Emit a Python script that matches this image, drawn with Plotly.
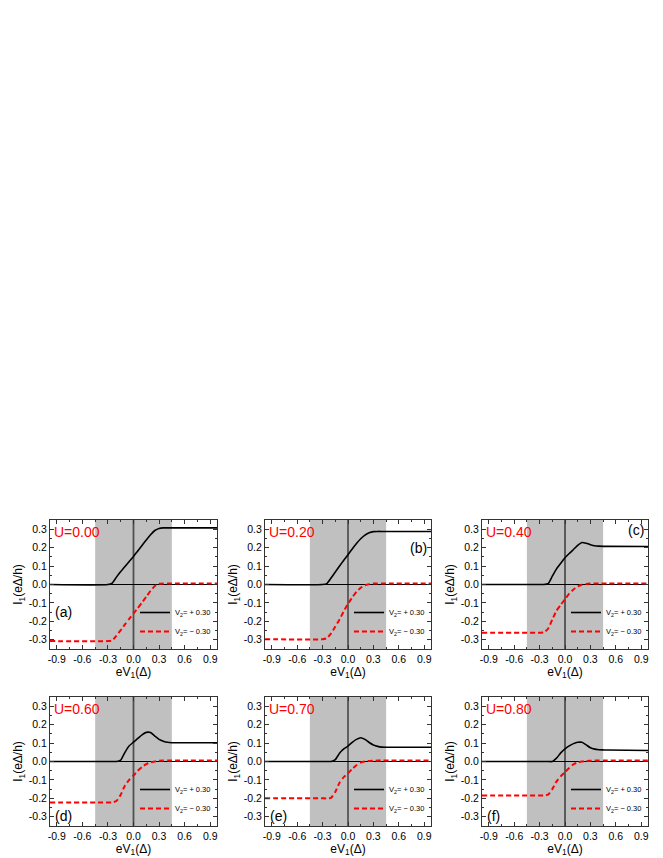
import plotly.graph_objects as go
from plotly.subplots import make_subplots

# bias eV1 (in units of Delta)
ev1 = [-0.98, -0.3, -0.25, -0.2, -0.15, -0.1, -0.05, 0.0, 0.05, 0.1,
       0.15, 0.2, 0.25, 0.3, 0.35, 0.4, 0.45, 0.5, 0.98]

u_values = ["0.00", "0.20", "0.40", "0.60", "0.70", "0.80"]
panel_tags = ["(a)", "(b)", "(c)", "(d)", "(e)", "(f)"]

# current I1 for V2 = +0.30
i_plus_a = [0, 0, 0.008, 0.04, 0.07, 0.098, 0.125, 0.152, 0.182, 0.212, 0.242, 0.27, 0.293, 0.304, 0.307, 0.307, 0.307, 0.307, 0.307]
i_plus_b = [0, 0, 0.005, 0.035, 0.068, 0.1, 0.132, 0.162, 0.193, 0.222, 0.248, 0.268, 0.281, 0.287, 0.288, 0.288, 0.288, 0.288, 0.288]
i_plus_c = [0, 0, 0, 0.004, 0.045, 0.085, 0.115, 0.145, 0.168, 0.19, 0.212, 0.228, 0.224, 0.216, 0.21, 0.208, 0.207, 0.207, 0.206]
i_plus_d = [0, 0, 0, 0, 0.008, 0.05, 0.085, 0.105, 0.125, 0.145, 0.158, 0.157, 0.138, 0.12, 0.11, 0.104, 0.102, 0.102, 0.102]
i_plus_e = [0, 0, 0, 0, 0.01, 0.045, 0.068, 0.084, 0.104, 0.12, 0.129, 0.12, 0.103, 0.09, 0.082, 0.078, 0.077, 0.077, 0.077]
i_plus_f = [0, 0, 0, 0, 0, 0.018, 0.047, 0.069, 0.085, 0.097, 0.104, 0.104, 0.09, 0.075, 0.067, 0.064, 0.063, 0.062, 0.06]

# current I1 for V2 = -0.30
i_minus_a = [-0.307, -0.307, -0.303, -0.278, -0.248, -0.216, -0.186, -0.157, -0.128, -0.098, -0.066, -0.035, -0.008, 0.004, 0.006, 0.006, 0.006, 0.006, 0.006]
i_minus_b = [-0.297, -0.297, -0.292, -0.265, -0.228, -0.19, -0.145, -0.105, -0.07, -0.04, -0.018, -0.005, 0.002, 0.005, 0.006, 0.006, 0.006, 0.006, 0.006]
i_minus_c = [-0.262, -0.262, -0.26, -0.24, -0.19, -0.142, -0.11, -0.08, -0.05, -0.027, -0.01, -0.001, 0.003, 0.005, 0.006, 0.006, 0.006, 0.006, 0.006]
i_minus_d = [-0.222, -0.222, -0.222, -0.214, -0.18, -0.13, -0.1, -0.076, -0.05, -0.03, -0.014, -0.005, 0.0, 0.004, 0.005, 0.005, 0.005, 0.005, 0.005]
i_minus_e = [-0.2, -0.2, -0.2, -0.197, -0.165, -0.115, -0.085, -0.065, -0.04, -0.02, -0.006, 0.0, 0.003, 0.004, 0.005, 0.005, 0.005, 0.005, 0.005]
i_minus_f = [-0.185, -0.185, -0.185, -0.18, -0.15, -0.108, -0.08, -0.058, -0.035, -0.015, -0.005, 0.0, 0.003, 0.004, 0.005, 0.005, 0.005, 0.005, 0.005]

gap_edge = 0.45
x_ticks = [-0.9, -0.6, -0.3, 0.0, 0.3, 0.6, 0.9]
y_ticks = [-0.3, -0.2, -0.1, 0.0, 0.1, 0.2, 0.3]

plus_sets = [i_plus_a, i_plus_b, i_plus_c, i_plus_d, i_plus_e, i_plus_f]
minus_sets = [i_minus_a, i_minus_b, i_minus_c, i_minus_d, i_minus_e, i_minus_f]

W, H = 663, 858
col_px = [(42, 209), (257, 423), (474, 640)]
row_px = [(512, 641), (689, 818)]
FONT = "Arial, Liberation Sans, sans-serif"

fig = make_subplots(rows=2, cols=3)

for k in range(6):
    r, c = k // 3 + 1, k % 3 + 1
    lg = "legend" if k == 0 else f"legend{k + 1}"
    fig.add_trace(go.Scatter(x=ev1, y=plus_sets[k], mode="lines", name="V<sub>2</sub>= + 0.30",
                             line=dict(color="black", width=1.6, shape="spline", smoothing=0.5),
                             legend=lg), row=r, col=c)
    fig.add_trace(go.Scatter(x=ev1, y=minus_sets[k], mode="lines", name="V<sub>2</sub>= \u2212 0.30",
                             line=dict(color="#ff0000", width=2, dash="5px,3px", shape="spline", smoothing=0.5),
                             legend=lg), row=r, col=c)

    fig.add_vrect(x0=-gap_edge, x1=gap_edge, fillcolor="#c0c0c0", opacity=1, line_width=0,
                  layer="below", row=r, col=c)
    zl = dict(color="black", width=1) if c == 2 else dict(color="#505050", width=1.8)
    fig.add_vline(x=0, line=zl, layer="below", row=r, col=c)
    fig.add_hline(y=0, line=dict(color="black", width=1), layer="below", row=r, col=c)

    x0, x1 = col_px[c - 1]
    y0, y1 = row_px[r - 1]
    xd = [x0 / W, x1 / W]
    yd = [1 - y1 / H, 1 - y0 / H]
    ax = "" if k == 0 else str(k + 1)
    fig.layout["xaxis" + ax].update(
        domain=xd, range=[-0.98, 0.98], tickvals=x_ticks, ticktext=[f"{v:.1f}" for v in x_ticks],
        ticks="inside", ticklen=4, tickcolor="#333", mirror="ticks", showline=True,
        linecolor="#333", linewidth=1, showgrid=False, zeroline=False, automargin=False,
        minor=dict(ticks="inside", ticklen=2, tickvals=[-0.75, -0.45, -0.15, 0.15, 0.45, 0.75], tickcolor="#333"),
        tickfont=dict(family=FONT, size=10.5, color="black"),
        title=dict(text="eV<sub>1</sub>(\u0394)", font=dict(family=FONT, size=12, color="black"), standoff=0))
    fig.layout["yaxis" + ax].update(
        domain=yd, range=[-0.35, 0.35], tickvals=y_ticks, ticktext=[f"{v:.1f}" for v in y_ticks],
        ticks="inside", ticklen=4, tickcolor="#333", mirror="ticks", showline=True,
        linecolor="#333", linewidth=1, showgrid=False, zeroline=False, automargin=False,
        minor=dict(ticks="inside", ticklen=2, tickvals=[-0.25, -0.15, -0.05, 0.05, 0.15, 0.25], tickcolor="#333"),
        tickfont=dict(family=FONT, size=10.5, color="black"),
        title=dict(text="I<sub>1</sub>(e\u0394/h)", font=dict(family=FONT, size=12, color="black"), standoff=3))

    fig.layout[lg] = dict(x=(x1 - 1) / W, y=1 - (y1 - 3) / H, xanchor="right", yanchor="bottom",
                          bgcolor="rgba(0,0,0,0)", font=dict(family=FONT, size=7.5, color="black"),
                          itemwidth=30, tracegroupgap=0)

    xr, yr = "x" + ax + " domain", "y" + ax + " domain"
    fig.add_annotation(text="U=" + u_values[k], xref=xr, yref=yr, x=0.01, y=0.985,
                       xanchor="left", yanchor="top", showarrow=False,
                       font=dict(family=FONT, size=14, color="#ff0000"))
    if k == 1:
        tx, ty, xa = 0.99, 0.78, "right"
    elif k == 2:
        tx, ty, xa = 0.99, 0.92, "right"
    elif k == 0:
        tx, ty, xa = 0.02, 0.29, "left"
    else:
        tx, ty, xa = 0.02, 0.08, "left"
    fig.add_annotation(text=panel_tags[k], xref=xr, yref=yr, x=tx, y=ty, xanchor=xa,
                       yanchor="middle", showarrow=False,
                       font=dict(family=FONT, size=14, color="black"))

fig.update_layout(width=W, height=H, template="none", showlegend=True,
                  margin=dict(l=0, r=0, t=0, b=0),
                  paper_bgcolor="white", plot_bgcolor="white")

fig.write_html("out.html")
